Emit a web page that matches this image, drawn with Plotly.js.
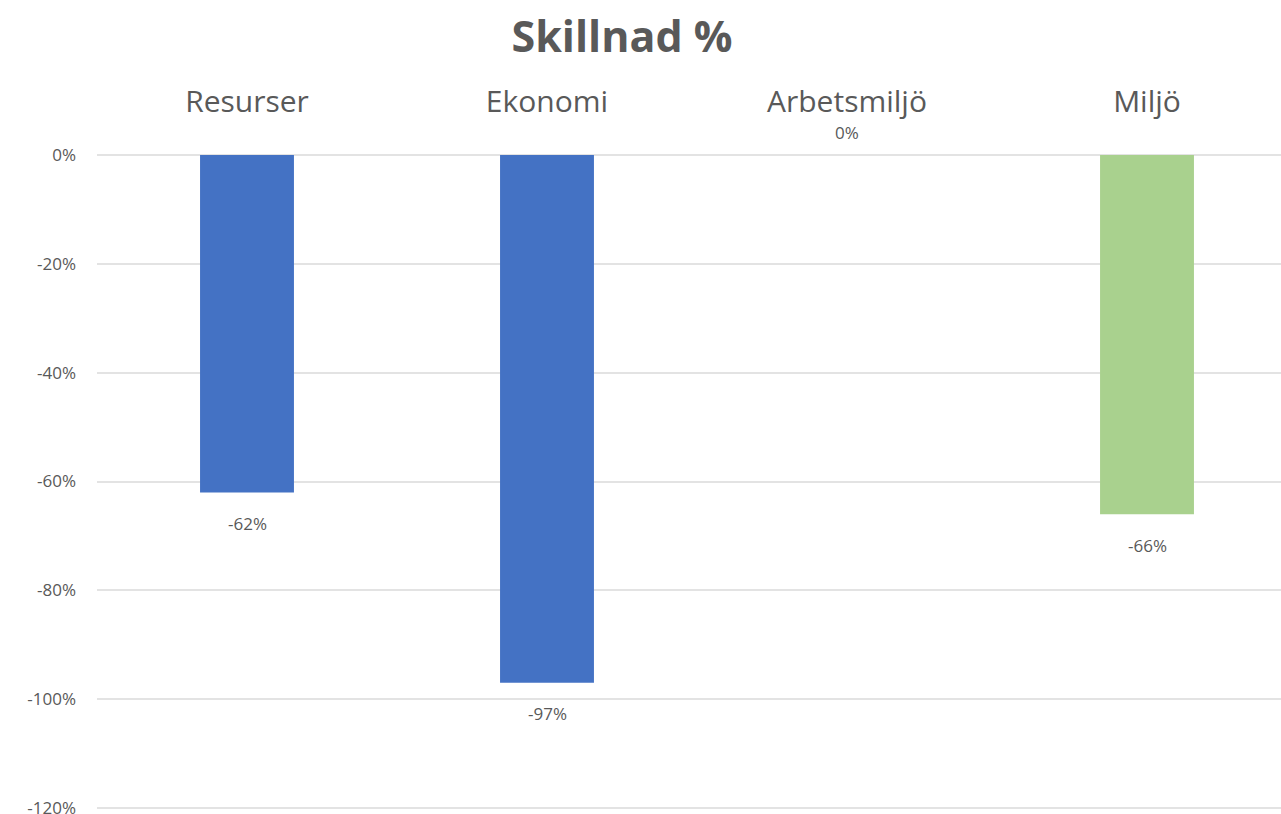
<!DOCTYPE html>
<html><head><meta charset="utf-8">
<script src="https://cdn.plot.ly/plotly-3.0.1.min.js"></script>
<style>html,body{margin:0;padding:0;overflow:hidden;background:#fff}</style>
</head><body><div id="chart"></div>
<script>
const categories = ["Resurser", "Ekonomi", "Arbetsmiljö", "Miljö"];
const values = [-0.62, -0.97, 0, -0.66];
const labels = ["-62%", "-97%", "0%", "-66%"];
const colors = ["#4472C4", "#4472C4", "#4472C4", "#A9D18E"];
const yTicks = [0, -0.2, -0.4, -0.6, -0.8, -1.0, -1.2];
const yTickText = ["0%", "-20%", "-40%", "-60%", "-80%", "-100%", "-120%"];

const trace = {
  type: "bar", x: categories, y: values, width: 0.313,
  marker: {color: colors}, hoverinfo: "skip"
};
const annotations = categories.map((c, i) => ({
  x: c, y: values[i], text: labels[i], showarrow: false,
  xref: "x", yref: "y", yanchor: "middle",
  yshift: values[i] < 0 ? -31 : 23,
  font: {family: "Open Sans, sans-serif", size: 17, color: "#595959"}
}));
const layout = {
  width: 1300, height: 814,
  margin: {l: 97, r: 3, t: 155, b: 0},
  paper_bgcolor: "#fff", plot_bgcolor: "#fff",
  title: {text: "<b>Skillnad %</b>", x: 0.4375, xanchor: "center", xref: "paper", y: 0.955, yanchor: "middle",
          font: {family: "Open Sans, sans-serif", size: 43, color: "#595959"}},
  xaxis: {side: "top", type: "category", range: [-0.5, 3.5], showgrid: false, zeroline: false,
          showline: false, ticks: "", ticklabelstandoff: 36,
          tickfont: {family: "Open Sans, sans-serif", size: 30, color: "#595959"}},
  yaxis: {range: [-1.211, 0], tickvals: yTicks, ticktext: yTickText, showgrid: true,
          gridcolor: "#e3e3e3", gridwidth: 2, zeroline: true, zerolinecolor: "#e3e3e3", zerolinewidth: 2,
          showline: false, ticks: "", ticklabelstandoff: 20, ticklabeloverflow: "allow",
          tickfont: {family: "Open Sans, sans-serif", size: 17, color: "#595959"}},
  annotations: annotations, showlegend: false
};
Plotly.newPlot("chart", [trace], layout, {displayModeBar: false, staticPlot: true});
</script></body></html>
